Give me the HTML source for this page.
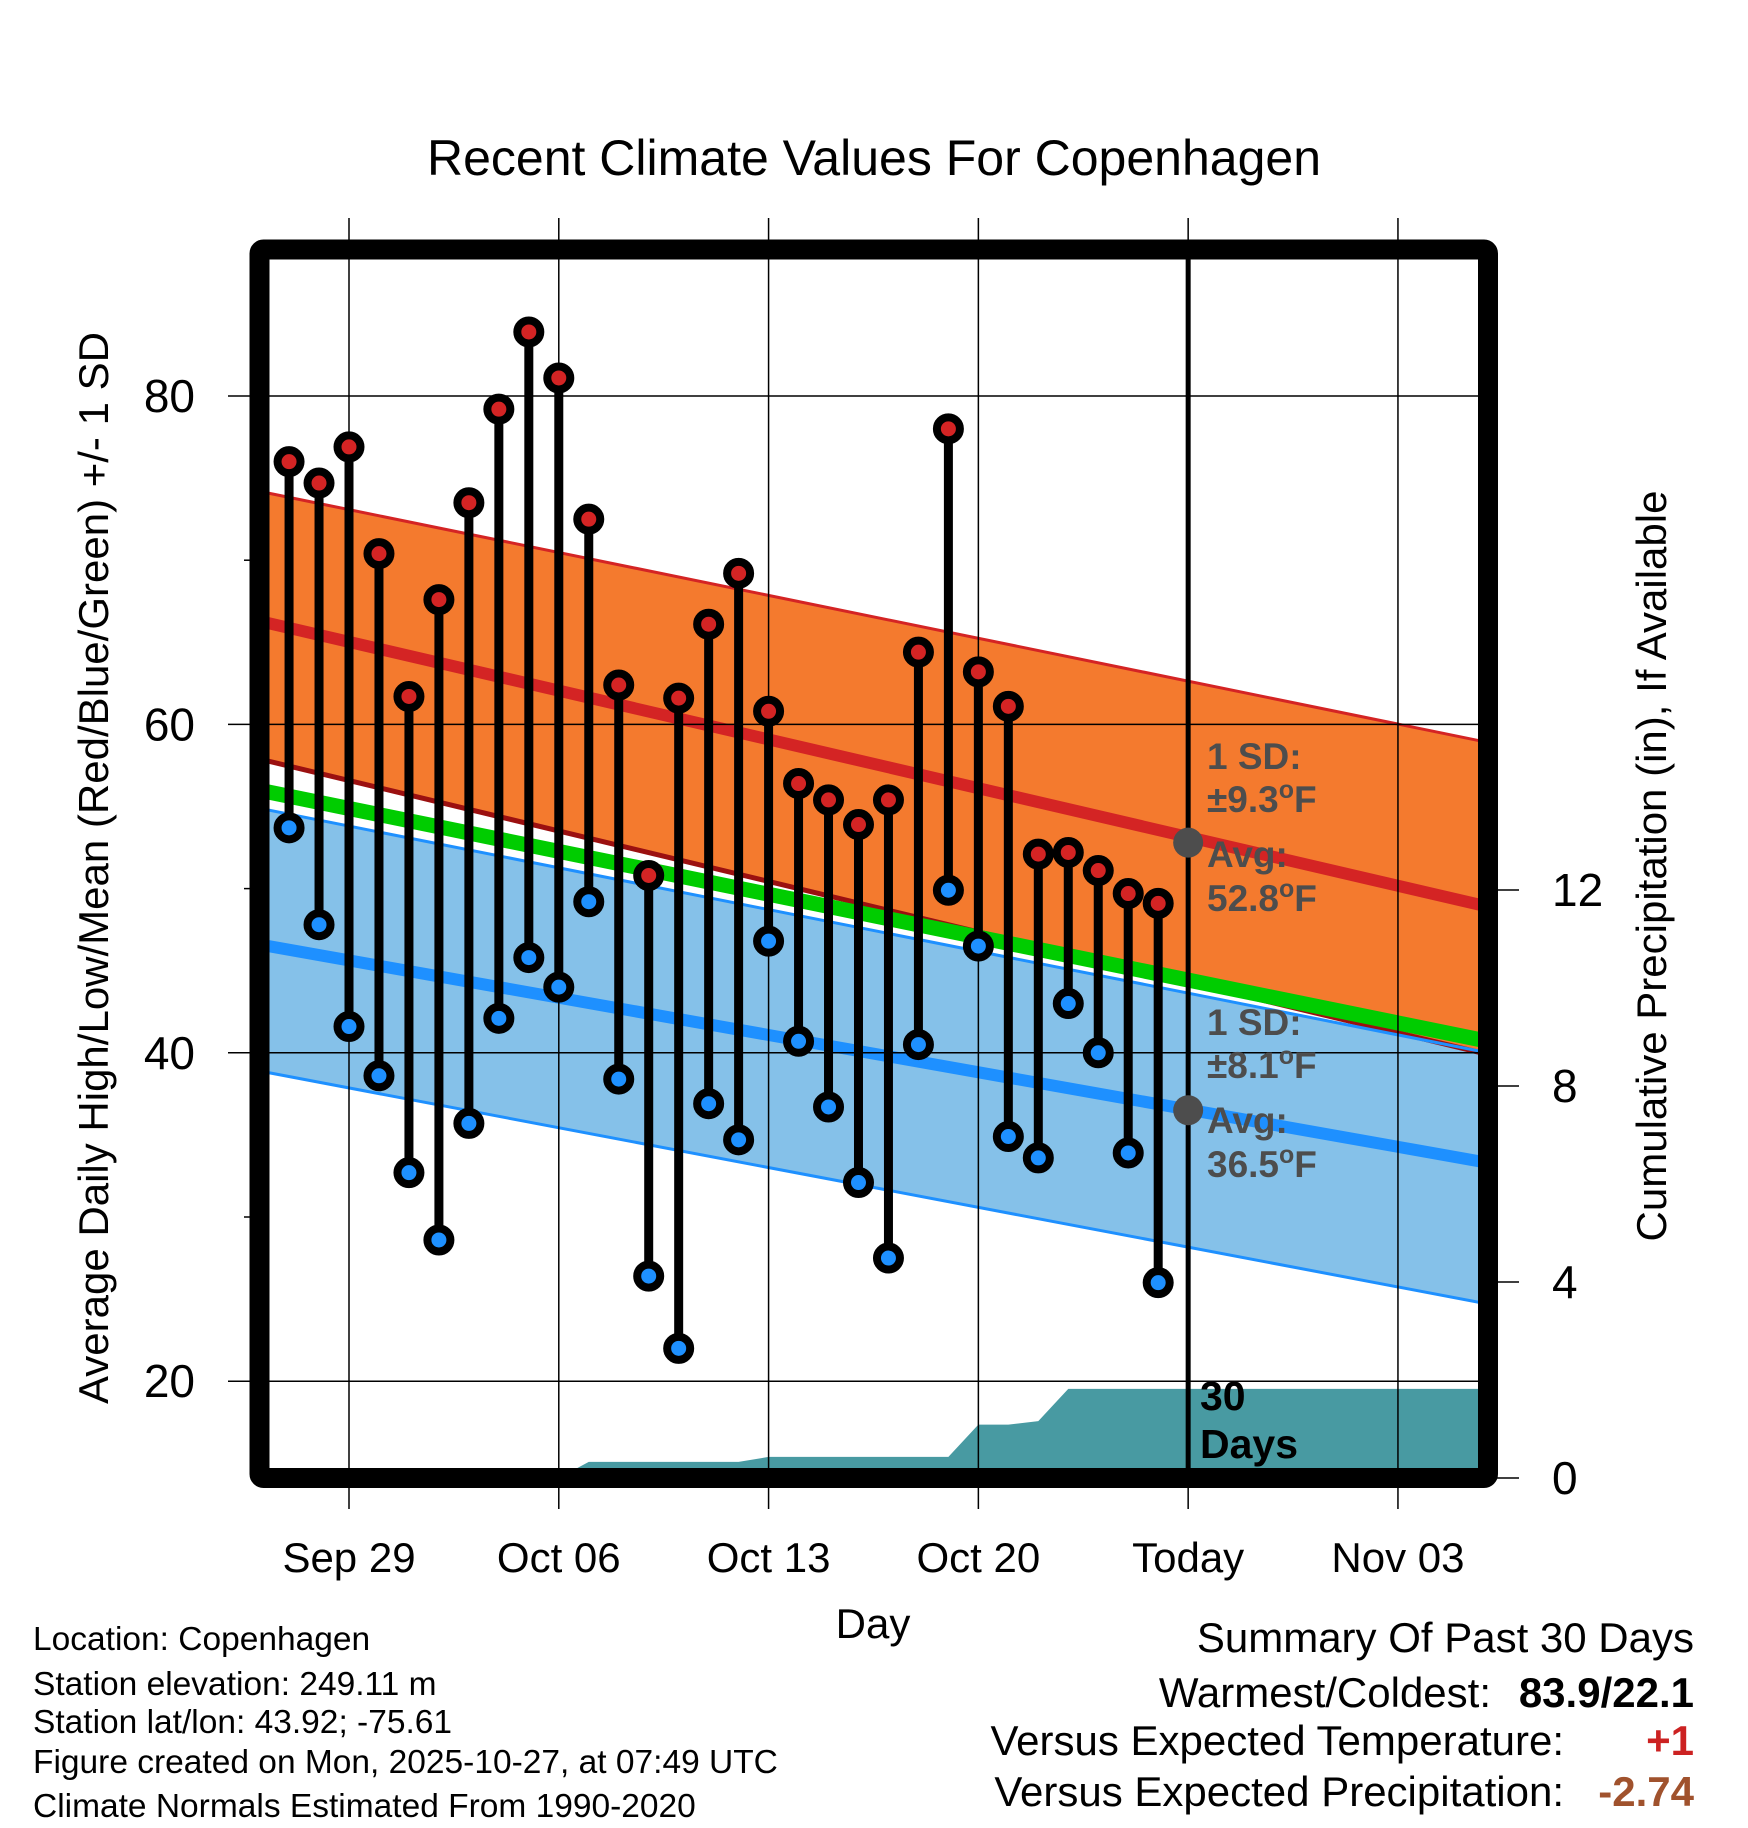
<!DOCTYPE html>
<html><head><meta charset="utf-8"><style>
html,body{margin:0;padding:0;background:#fff;}
svg{display:block;font-family:"Liberation Sans",Arial,sans-serif;}
</style></head><body>
<svg id="chart" width="1748" height="1828" viewBox="0 0 1748 1828" xmlns="http://www.w3.org/2000/svg">
<text x="874" y="175" font-size="50" text-anchor="middle">Recent Climate Values For Copenhagen</text>
<g id="plot"></g>
<text transform="translate(108,868) rotate(-90)" font-size="42" text-anchor="middle">Average Daily High/Low/Mean (Red/Blue/Green) +/- 1 SD</text>
<text transform="translate(1666,866) rotate(-90)" font-size="42" text-anchor="middle">Cumulative Precipitation (in), If Available</text>
<text x="873" y="1638" font-size="42" text-anchor="middle">Day</text>
<g font-size="33.5">
<text x="33" y="1650">Location: Copenhagen</text>
<text x="33" y="1695">Station elevation: 249.11 m</text>
<text x="33" y="1733">Station lat/lon: 43.92; -75.61</text>
<text x="33" y="1773">Figure created on Mon, 2025-10-27, at 07:49 UTC</text>
<text x="33" y="1817">Climate Normals Estimated From 1990-2020</text>
</g>
<g font-size="42">
<text x="1694" y="1652" text-anchor="end">Summary Of Past 30 Days</text>
<text x="1491" y="1707" text-anchor="end">Warmest/Coldest:</text>
<text x="1694" y="1707" text-anchor="end" font-weight="bold">83.9/22.1</text>
<text x="1564" y="1755" text-anchor="end">Versus Expected Temperature:</text>
<text x="1694" y="1755" text-anchor="end" font-weight="bold" fill="#cc2222">+1</text>
<text x="1564" y="1806" text-anchor="end">Versus Expected Precipitation:</text>
<text x="1694" y="1806" text-anchor="end" font-weight="bold" fill="#a0522d">-2.74</text>
</g>
</svg>
<script>
const days = ["Sep 27","Sep 28","Sep 29","Sep 30","Oct 01","Oct 02","Oct 03","Oct 04","Oct 05","Oct 06","Oct 07","Oct 08","Oct 09","Oct 10","Oct 11","Oct 12","Oct 13","Oct 14","Oct 15","Oct 16","Oct 17","Oct 18","Oct 19","Oct 20","Oct 21","Oct 22","Oct 23","Oct 24","Oct 25","Oct 26"];
const highs = [76.0,74.7,76.9,70.4,61.7,67.6,73.5,79.2,83.9,81.1,72.5,62.4,50.8,61.6,66.1,69.2,60.8,56.4,55.4,53.9,55.4,64.4,78.0,63.2,61.1,52.1,52.2,51.1,49.7,49.1];
const lows = [53.7,47.8,41.6,38.6,32.7,28.6,35.7,42.1,45.8,44.0,49.2,38.4,26.4,22.0,36.9,34.7,46.8,40.7,36.7,32.1,27.5,40.5,49.9,46.5,34.9,33.6,43.0,40.0,33.9,26.0];
const precip = [0,0,0,0,0,0,0,0,0,0,0.33,0.33,0.33,0.33,0.33,0.33,0.43,0.43,0.43,0.43,0.43,0.43,0.43,1.09,1.09,1.16,1.82,1.82,1.82,1.82];
const normDays = [-2,39];
const highMean = [66.3,48.9];
const highUpper = [74.2,58.9];
const highLower = [57.9,39.9];
const meanTemp = [56.0,40.7];
const lowMean = [46.6,33.3];
const lowUpper = [54.9,40.0];
const lowLower = [38.9,24.7];
const xTickLabels = ["Sep 29","Oct 06","Oct 13","Oct 20","Today","Nov 03"];
const xTickDays = [1,8,15,22,29,36];
const yTicks = [20,40,60,80];
const yMinor = [30,50,70];
const y2Ticks = [0,4,8,12];
const todayDay = 29;

const X = d => 349 + (d - 1) * 29.97;
const Y = t => 396 + (80 - t) * 16.42;
const P = p => 1478 - p * 49;
const L = 259.5, R = 1488, T = 249.5, B = 1478;

const NS = "http://www.w3.org/2000/svg";
const plot = document.getElementById("plot");
function mk(tag, attrs, parent) {
  const e = document.createElementNS(NS, tag);
  for (const k in attrs) e.setAttribute(k, attrs[k]);
  (parent || plot).appendChild(e);
  return e;
}
const xPos = i => X(i - 1); // index 0 = Sep 27 = day -1
function band(up, lo, fill, name) {
  const pts = [[X(normDays[0]), Y(up[0])],[X(normDays[1]), Y(up[1])],[X(normDays[1]), Y(lo[1])],[X(normDays[0]), Y(lo[0])]];
  const e = mk("polygon", {points: pts.map(p => p.join(",")).join(" "), fill: fill, "clip-path": "url(#clip)"});
  
  
}
function line(arr, color, w, name) {
  const e = mk("line", {x1: X(normDays[0]), y1: Y(arr[0]), x2: X(normDays[1]), y2: Y(arr[1]), stroke: color, "stroke-width": w, "clip-path": "url(#clip)"});
  
  
}
const defs = mk("defs", {});
const cp = mk("clipPath", {id: "clip"}, defs);
mk("rect", {x: L, y: T, width: R - L, height: B - T}, cp);

// precipitation area
let pp = [[xPos(0), P(0)]];
precip.forEach((v, i) => pp.push([xPos(i), P(v)]));
pp.push([R, P(precip[precip.length - 1])]);
pp.push([R, P(0)]);
const pa = mk("polygon", {points: pp.map(p => p.join(",")).join(" "), fill: "#489aa2", "clip-path": "url(#clip)"});



band(highUpper, highLower, "#f47a2e", "high-sd-band");
band(lowUpper, lowLower, "#85c1e9", "low-sd-band");
line(highLower, "#9b1010", 5, "high-lower-line");
line(meanTemp, "#00cc00", 15, "mean-temp-line");
line(highUpper, "#d42424", 3, "high-upper-line");
line(highMean, "#d42424", 12, "high-mean-line");
line(lowUpper, "#1e90ff", 3, "low-upper-line");
line(lowLower, "#1e90ff", 3, "low-lower-line");
line(lowMean, "#1e90ff", 12, "low-mean-line");

// gridlines
yTicks.forEach(t => {
  const g = mk("line", {x1: 228, y1: Y(t), x2: R, y2: Y(t), stroke: "#000", "stroke-width": 1.5});
  
  
  const tx = mk("text", {x: 195, y: Y(t) + 16, "font-size": 46, "text-anchor": "end"});
  tx.textContent = t;
  
  
});
yMinor.forEach(t => {
  const g = mk("line", {x1: 244, y1: Y(t), x2: L, y2: Y(t), stroke: "#000", "stroke-width": 1.5});
  
  
});
xTickDays.forEach((d, i) => {
  const g = mk("line", {x1: X(d), y1: 218, x2: X(d), y2: 1509, stroke: "#000", "stroke-width": 1.5});
  
  
  const tx = mk("text", {x: X(d), y: 1572, "font-size": 42, "text-anchor": "middle"});
  tx.textContent = xTickLabels[i];
  
  
});
y2Ticks.forEach(p => {
  const g = mk("line", {x1: R, y1: P(p), x2: 1519, y2: P(p), stroke: "#000", "stroke-width": 1.5});
  
  
  const tx = mk("text", {x: 1552, y: P(p) + 16, "font-size": 46});
  tx.textContent = p;
  
  
});

// today line
const tl = mk("line", {x1: X(todayDay), y1: T, x2: X(todayDay), y2: B, stroke: "#000", "stroke-width": 5});



// stems and dots
highs.forEach((h, i) => {
  const s = mk("line", {x1: xPos(i), y1: Y(h), x2: xPos(i), y2: Y(lows[i]), stroke: "#000", "stroke-width": 9});
  
  
});
highs.forEach((h, i) => {
  const c = mk("circle", {cx: xPos(i), cy: Y(h), r: 11.5, fill: "#d42424", stroke: "#000", "stroke-width": 8});
  
  
  const c2 = mk("circle", {cx: xPos(i), cy: Y(lows[i]), r: 11.5, fill: "#1e90ff", stroke: "#000", "stroke-width": 8});
  
  
});

// annotations
function avgDot(val, name) {
  const c = mk("circle", {cx: X(todayDay), cy: Y(val), r: 15, fill: "#4d4d4d"});
  
  
}
avgDot(52.8, "high-avg-marker");
avgDot(36.5, "low-avg-marker");
function note(lines, y0, name) {
  const t = mk("text", {x: 1207, y: y0, "font-size": 37, "font-weight": "bold", fill: "#4d4d4d"});
  
  
  lines.forEach((ln, k) => {
    const ts = mk("tspan", {x: 1207, y: y0 + [0, 43, 98, 142][k]}, t);
    ts.innerHTML = ln;
  });
}
note(["1 SD:", "±9.3<tspan dy='-14' font-size='25'>o</tspan><tspan dy='14'>F</tspan>", "Avg:", "52.8<tspan dy='-14' font-size='25'>o</tspan><tspan dy='14'>F</tspan>"], 769, "high-normal-note");
note(["1 SD:", "±8.1<tspan dy='-14' font-size='25'>o</tspan><tspan dy='14'>F</tspan>", "Avg:", "36.5<tspan dy='-14' font-size='25'>o</tspan><tspan dy='14'>F</tspan>"], 1035, "low-normal-note");
const d30 = mk("text", {x: 1200, y: 1410, "font-size": 41, "font-weight": "bold", fill: "#000"});


mk("tspan", {x: 1200, y: 1410}, d30).textContent = "30";
mk("tspan", {x: 1200, y: 1458}, d30).textContent = "Days";

// frame
const fr = mk("rect", {x: L, y: T, width: R - L, height: B - T, fill: "none", stroke: "#000", "stroke-width": 20, rx: 4});


</script>
</body></html>
